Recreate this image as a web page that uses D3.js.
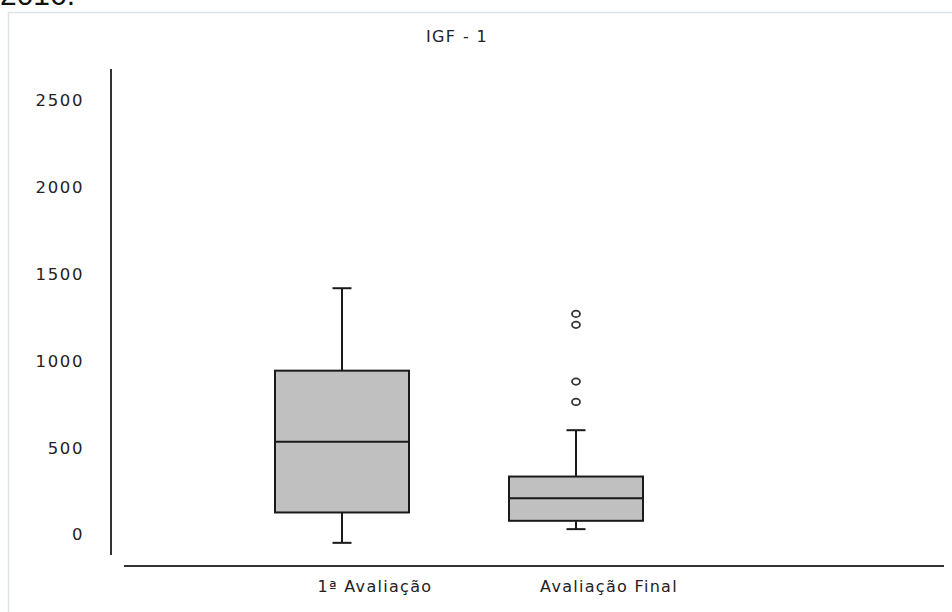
<!DOCTYPE html>
<html><head><meta charset="utf-8">
<script src="https://cdn.jsdelivr.net/npm/d3@7"></script>
<style>body{margin:0;background:#fff;} svg{display:block;}</style>
</head><body>
<script>
const categories = ["1ª Avaliação", "Avaliação Final"];
const whiskerLow = [0, 79];
const q1 = [175, 127];
const median = [583, 257];
const q3 = [992, 382];
const whiskerHigh = [1467, 649];
const outliers = [[], [812, 929, 1256, 1319]];
const yTicks = [0, 500, 1000, 1500, 2000, 2500];
const title = "IGF - 1";

const W = 952, H = 612;
const svg = d3.select("body").append("svg").attr("width", W).attr("height", H);
const font = "DejaVu Sans, Arial, sans-serif";

// frame (partially off-page)
svg.append("rect").attr("x", 8.5).attr("y", 12.5).attr("width", 1000).attr("height", 700)
  .attr("fill", "none").attr("stroke", "#dce3eb").attr("stroke-width", 1.5);
// cut-off caption text above
svg.append("text").attr("x", 0).attr("y", 5).attr("font-family", "Arial, sans-serif")
  .attr("font-size", 30).attr("fill", "#111").text("2016.");

const y = d3.scaleLinear().domain([-70, 2730]).range([555, 69]);
const x = d3.scaleBand().domain(categories).range([225, 693]);
const cx = d => x(d) + x.bandwidth() / 2;
const boxW = 134, capW = 19;

// title
svg.append("text").attr("x", 457).attr("y", 42).attr("text-anchor", "middle")
  .attr("font-family", font).attr("font-size", 16).attr("letter-spacing", 1.4)
  .attr("fill", "#222").text(title);

// y axis
const yAxis = d3.axisLeft(y).tickValues(yTicks).tickFormat(d3.format("d")).tickSize(0).tickPadding(0);
const gy = svg.append("g").attr("transform", "translate(111,0)").call(yAxis);
gy.select(".domain").remove();
gy.append("line").attr("x1", 0).attr("x2", 0).attr("y1", 69).attr("y2", 555)
  .attr("stroke", "#333").attr("stroke-width", 2);
gy.selectAll(".tick text").attr("x", -27).attr("dy", "-0.18em")
  .attr("font-family", font).attr("font-size", 16.5).attr("letter-spacing", 1.6)
  .attr("fill", "#222");

// x axis
const xAxis = d3.axisBottom(x).tickSize(0).tickPadding(0);
const gx = svg.append("g").attr("transform", "translate(0,566)").call(xAxis);
gx.select(".domain").remove();
gx.append("line").attr("x1", 124).attr("x2", 944).attr("y1", 0).attr("y2", 0)
  .attr("stroke", "#333").attr("stroke-width", 2);
gx.selectAll(".tick text").attr("x", 33).attr("y", 26).attr("dy", 0)
  .attr("font-family", font).attr("font-size", 16).attr("letter-spacing", 1.3)
  .attr("fill", "#222");

// boxes
const g = svg.append("g");
categories.forEach((c, i) => {
  const xc = cx(c);
  const stroke = "#1a1a1a";
  g.append("line").attr("x1", xc).attr("x2", xc).attr("y1", y(q3[i])).attr("y2", y(whiskerHigh[i]))
    .attr("stroke", stroke).attr("stroke-width", 2);
  g.append("line").attr("x1", xc).attr("x2", xc).attr("y1", y(q1[i])).attr("y2", y(whiskerLow[i]))
    .attr("stroke", stroke).attr("stroke-width", 2);
  g.append("line").attr("x1", xc - capW / 2).attr("x2", xc + capW / 2)
    .attr("y1", y(whiskerHigh[i])).attr("y2", y(whiskerHigh[i])).attr("stroke", stroke).attr("stroke-width", 2);
  g.append("line").attr("x1", xc - capW / 2).attr("x2", xc + capW / 2)
    .attr("y1", y(whiskerLow[i])).attr("y2", y(whiskerLow[i])).attr("stroke", stroke).attr("stroke-width", 2);
  g.append("rect").attr("x", xc - boxW / 2).attr("width", boxW)
    .attr("y", y(q3[i])).attr("height", y(q1[i]) - y(q3[i]))
    .attr("fill", "#c0c0c0").attr("stroke", stroke).attr("stroke-width", 2);
  g.append("line").attr("x1", xc - boxW / 2).attr("x2", xc + boxW / 2)
    .attr("y1", y(median[i])).attr("y2", y(median[i])).attr("stroke", stroke).attr("stroke-width", 2);
  g.selectAll(null).data(outliers[i]).enter().append("ellipse")
    .attr("cx", xc).attr("cy", d => y(d)).attr("rx", 4).attr("ry", 3.2)
    .attr("fill", "#fff").attr("stroke", "#333").attr("stroke-width", 1.8);
});
</script>
</body></html>
